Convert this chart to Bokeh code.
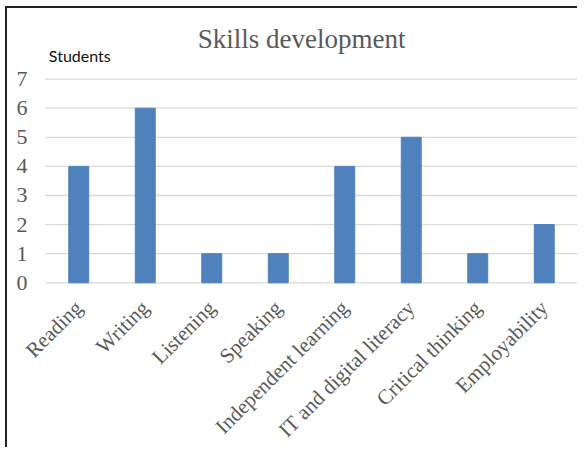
from bokeh.plotting import figure
from bokeh.models import Label, Range1d, ColumnDataSource
from bokeh.core.properties import value
from bokeh.embed import file_html
from bokeh.resources import INLINE
import math

categories = ["Reading", "Writing", "Listening", "Speaking", "Independent learning",
              "IT and digital literacy", "Critical thinking", "Employability"]
students = [4, 6, 1, 1, 4, 5, 1, 2]
y_ticks = [0, 1, 2, 3, 4, 5, 6, 7]
y_tick_labels = ["0", "1", "2", "3", "4", "5", "6", "7"]
title_text = "Skills development"
y_label_text = "Students"

GRAY = "#595959"
SERIF = "Liberation Serif"

n = len(categories)
xs = [i + 0.5 for i in range(n)]

p = figure(x_range=Range1d(-0.5714, 8.0301), y_range=Range1d(-5.729, 9.426),
           width=572, height=441, title=None, x_axis_location=None, y_axis_location=None,
           output_backend="svg", toolbar_location=None,
           min_border_left=0, min_border_right=0, min_border_top=0, min_border_bottom=0)
p.styles = {"border-top": "2px solid #222", "border-left": "2px solid #222",
            "margin-top": "6px", "margin-left": "5px"}
p.outline_line_color = None
p.grid.visible = False

# horizontal gridlines over the category span
p.segment(x0=[0] * len(y_ticks), x1=[n] * len(y_ticks), y0=y_ticks, y1=y_ticks,
          line_color="#D9D9D9", line_width=1.3)

src = ColumnDataSource(dict(x=xs, top=students, cat=categories))
p.vbar(x="x", top="top", width=0.3, color="#4F81BD", source=src)

# rotated category labels
p.text(x="x", y=-0.74, text="cat", source=src, angle=math.pi / 4,
       text_align="right", text_baseline="middle", text_font=value(SERIF),
       text_font_size="21px", text_color=GRAY)

# value-axis tick labels
p.text(x=-0.27, y=y_ticks, text=y_tick_labels, text_align="right", text_baseline="middle",
       text_font=value(SERIF), text_font_size="22px", text_color=GRAY)

p.add_layout(Label(x=3.85, y=8.39, text=title_text, text_font=SERIF, text_font_size="27px",
                   text_color=GRAY, text_align="center", text_baseline="alphabetic"))
p.add_layout(Label(x=0.05, y=7.80, text=y_label_text, text_font="Lato", text_font_size="16px",
                   text_color="#111111", text_align="left", text_baseline="alphabetic"))

open("out.html", "w").write(file_html(p, INLINE))
